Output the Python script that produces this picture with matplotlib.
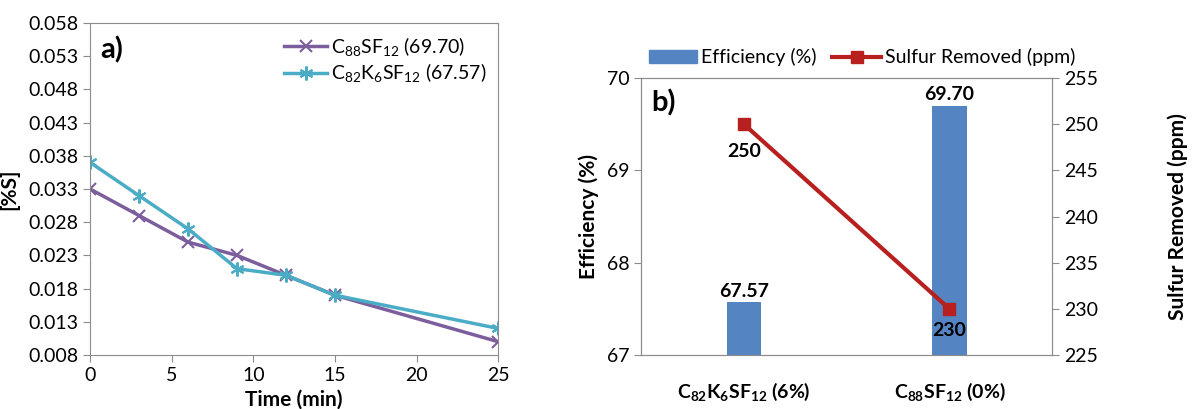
import numpy as np
import matplotlib
matplotlib.use("Agg")
from matplotlib import pyplot as plt
from matplotlib.patches import Patch
from matplotlib.lines import Line2D

plt.rcParams['font.family'] = ['Lato', 'DejaVu Sans']
plt.rcParams['mathtext.fontset'] = 'custom'
plt.rcParams['mathtext.rm'] = 'Lato'
plt.rcParams['mathtext.it'] = 'Lato'
plt.rcParams['mathtext.bf'] = 'Lato:bold'
plt.rcParams['mathtext.default'] = 'regular'

# panel a) data
time_min = [0, 3, 6, 9, 12, 15, 25]
s_c88 = [0.033, 0.029, 0.025, 0.023, 0.020, 0.017, 0.010]
s_c82k6 = [0.037, 0.032, 0.027, 0.021, 0.020, 0.017, 0.012]
label_c88 = r"C$_{88}$SF$_{12}$ (69.70)"
label_c82k6 = r"C$_{82}$K$_6$SF$_{12}$ (67.57)"
yticks_a = [0.008, 0.013, 0.018, 0.023, 0.028, 0.033, 0.038, 0.043, 0.048, 0.053, 0.058]

# panel b) data
categories = [r"$\mathbf{C_{82}K_6SF_{12}}$ (6%)", r"$\mathbf{C_{88}SF_{12}}$ (0%)"]
efficiency = [67.57, 69.70]
sulfur_removed = [250, 230]

purple = "#7D5E9C"
teal = "#4BACC6"
blue = "#5584C2"
red = "#B81F1F"
gray = "#8C8C8C"
fs = 14

fig = plt.figure(figsize=(11.92, 4.09), dpi=100)

# ---- a)
ax1 = fig.add_axes([0.0755, 0.132, 0.3425, 0.812])
ax1.plot(time_min, s_c88, color=purple, lw=2.5, marker='x', ms=9, mew=1.5, label=label_c88)
ax1.plot(time_min, s_c82k6, color=teal, lw=2.5, marker=(6, 2, 0), ms=10, mew=1.5, label=label_c82k6)
ax1.set_xlim(0, 25)
ax1.set_ylim(0.008, 0.058)
ax1.set_yticks(yticks_a)
ax1.set_yticklabels(["%.3f" % v for v in yticks_a])
ax1.set_xticks([0, 5, 10, 15, 20, 25])
ax1.tick_params(labelsize=fs, color=gray, length=5)
for sp in ax1.spines.values():
    sp.set_color(gray)
ax1.set_ylabel("[%S]", fontsize=15, fontweight='bold', labelpad=6)
ax1.set_xlabel("Time (min)", fontsize=15, fontweight='bold', labelpad=4)
ax1.text(0.025, 0.96, "a)", transform=ax1.transAxes, fontsize=21, fontweight='bold', va='top')
ax1.legend(loc='upper right', frameon=False, fontsize=fs, handlelength=2.2,
           handletextpad=0.2, borderaxespad=0.2, labelspacing=0.2)

# ---- b)
ax2 = fig.add_axes([0.538, 0.132, 0.3446, 0.677])
x = np.arange(len(categories))
ax2.bar(x, [e - 67 for e in efficiency], bottom=67, width=0.17, color=blue)
for xi, e in zip(x, efficiency):
    ax2.text(xi, e + 0.03, "%.2f" % e, ha='center', va='bottom', fontsize=fs, fontweight='bold')
ax2.set_xlim(-0.5, 1.5)
ax2.set_ylim(67, 70)
ax2.set_yticks([67, 68, 69, 70])
ax2.set_xticks(x)
ax2.set_xticklabels(categories, fontsize=fs, fontweight='bold')
ax2.tick_params(axis='x', length=0, pad=19)
ax2.tick_params(axis='y', labelsize=fs, color=gray, length=5)
ax2.set_ylabel("Efficiency (%)", fontsize=15, fontweight='bold', labelpad=6)
for sp in ax2.spines.values():
    sp.set_color(gray)
ax2.text(0.025, 0.96, "b)", transform=ax2.transAxes, fontsize=21, fontweight='bold', va='top')

ax3 = ax2.twinx()
ax3.plot(x, sulfur_removed, color=red, lw=3, marker='s', ms=9)
ax3.set_ylim(225, 255)
ax3.set_yticks([225, 230, 235, 240, 245, 250, 255])
ax3.tick_params(axis='y', labelsize=fs, color=gray, length=5)
ax3.set_ylabel("Sulfur Removed (ppm)", fontsize=15, fontweight='bold', labelpad=50)
for sp in ax3.spines.values():
    sp.set_color(gray)
ax3.text(x[0], sulfur_removed[0] - 2.0, "%d" % sulfur_removed[0], ha='center', va='top',
         fontsize=fs, fontweight='bold')
ax3.text(x[1], sulfur_removed[1] - 1.4, "%d" % sulfur_removed[1], ha='center', va='top',
         fontsize=fs, fontweight='bold')

handles = [Patch(color=blue, label="Efficiency (%)"),
           Line2D([], [], color=red, lw=3, marker='s', ms=9, label="Sulfur Removed (ppm)")]
ax2.legend(handles=handles, loc='lower left', bbox_to_anchor=(-0.01, 1.0), ncol=2, frameon=False,
           fontsize=fs, handlelength=2.5, handletextpad=0.2, columnspacing=0.8, borderaxespad=0.2)

fig.savefig("out.png", dpi=100)
